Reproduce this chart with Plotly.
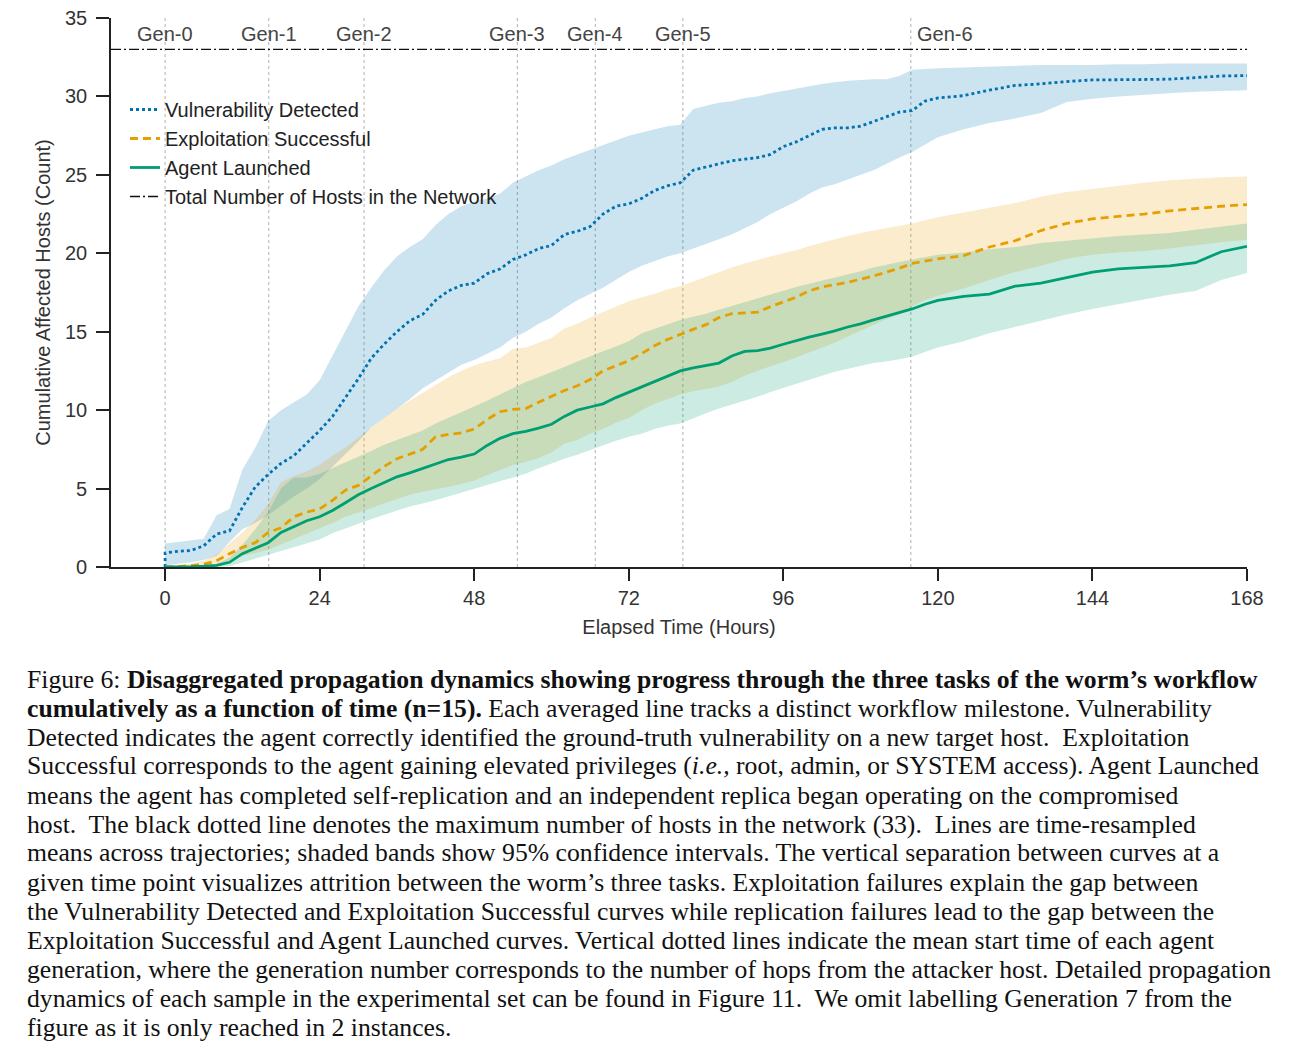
import plotly.graph_objects as go

# elapsed time (hours); 0 appears twice so the curves can jump at the start
hours = [0, 0, 2, 4, 6, 8, 10, 12, 14, 16, 18,
         20, 22, 24, 26, 28, 30, 32, 34, 36, 38,
         40, 42, 44, 46, 48, 50, 52, 54, 56, 58,
         60, 62, 64, 66, 68, 70, 72, 74, 76, 78,
         80, 82, 84, 86, 88, 90, 92, 94, 96, 98,
         100, 102, 104, 106, 108, 110, 112, 114, 116, 118,
         120, 124, 128, 132, 136, 140, 144, 148, 152, 156, 160, 164, 168]

vuln_mean = [0, 0.9, 1.0, 1.05, 1.35, 2.1, 2.3, 3.8, 5.1, 5.9, 6.6,
             7.1, 7.9, 8.7, 9.6, 10.8, 12.0, 13.3, 14.2, 15.0, 15.7,
             16.1, 17.0, 17.6, 17.95, 18.1, 18.7, 19.0, 19.6, 19.9, 20.3,
             20.5, 21.2, 21.4, 21.7, 22.5, 23.0, 23.15, 23.5, 24.0, 24.3,
             24.5, 25.3, 25.5, 25.7, 25.9, 26.0, 26.1, 26.3, 26.8, 27.1,
             27.5, 27.9, 28.0, 28.0, 28.1, 28.4, 28.7, 29.0, 29.1, 29.7,
             29.9, 30.05, 30.4, 30.7, 30.8, 30.95, 31.05, 31.05, 31.08, 31.1, 31.2, 31.3, 31.33]
vuln_lo = [0, 0.1, 0.2, 0.3, 0.45, 0.7, 1.6, 2.4, 2.8, 3.3, 3.9,
           4.5, 5.0, 5.6, 6.4, 7.2, 8.0, 8.9, 9.5, 10.1, 10.7,
           11.4, 11.9, 12.4, 12.9, 13.2, 13.6, 14.0, 14.6, 15.0, 15.5,
           15.9, 16.5, 17.0, 17.4, 17.8, 18.3, 18.8, 19.2, 19.5, 19.8,
           20.0, 20.3, 20.6, 20.9, 21.2, 21.6, 22.0, 22.5, 22.9, 23.3,
           23.8, 24.2, 24.4, 24.7, 25.0, 25.3, 25.7, 26.1, 26.45, 26.9,
           27.4, 27.9, 28.3, 28.6, 28.95, 29.65, 29.85, 30.0, 30.1, 30.2, 30.3, 30.35, 30.4]
vuln_hi = [0, 1.5, 1.6, 1.7, 1.8, 3.3, 3.7, 6.2, 7.6, 9.3, 10.0,
           10.5, 11.0, 11.9, 13.5, 15.0, 16.6, 17.8, 18.9, 19.8, 20.4,
           20.9, 21.8, 22.5, 23.0, 23.3, 23.5, 23.8, 24.5, 24.9, 25.3,
           25.6, 26.0, 26.3, 26.6, 26.9, 27.2, 27.5, 27.7, 27.9, 28.1,
           28.2, 29.2, 29.4, 29.6, 29.7, 29.9, 30.0, 30.2, 30.35, 30.5,
           30.65, 30.8, 30.9, 31.0, 31.05, 31.1, 31.1, 31.3, 31.7, 31.75,
           31.8, 31.85, 31.9, 31.95, 32.0, 32.0, 32.0, 32.05, 32.05, 32.1, 32.1, 32.1, 32.1]

exploit_mean = [0, 0, 0.02, 0.08, 0.18, 0.4, 0.85, 1.25, 1.55, 2.2, 2.5,
                3.2, 3.5, 3.7, 4.25, 4.9, 5.2, 5.8, 6.4, 6.9, 7.2,
                7.5, 8.3, 8.45, 8.55, 8.8, 9.4, 9.9, 10.05, 10.1, 10.5,
                10.9, 11.25, 11.55, 11.95, 12.5, 12.8, 13.15, 13.6, 14.1, 14.5,
                14.85, 15.15, 15.45, 15.9, 16.15, 16.2, 16.25, 16.6, 16.9, 17.2,
                17.6, 17.85, 18.0, 18.15, 18.35, 18.55, 18.8, 19.05, 19.35, 19.5,
                19.65, 19.85, 20.4, 20.8, 21.45, 21.9, 22.2, 22.35, 22.5, 22.7, 22.85, 23.0, 23.1]
exploit_lo = [0, 0, 0, 0, 0.02, 0.1, 0.35, 0.7, 0.9, 1.1, 1.45,
              1.8, 2.1, 2.45, 2.8, 3.2, 3.45, 3.75, 4.05, 4.35, 4.6,
              4.8, 4.95, 5.1, 5.3, 5.5, 5.85, 6.2, 6.5, 6.7, 6.95,
              7.3, 7.85, 8.1, 8.5, 8.8, 9.2, 9.5, 10.0, 10.4, 10.7,
              11.0, 11.2, 11.35, 11.5, 11.8, 12.2, 12.5, 12.8, 13.05, 13.35,
              13.65, 14.0, 14.3, 14.7, 15.1, 15.45, 15.8, 16.1, 16.6, 17.0,
              17.3, 17.75, 18.3, 18.8, 19.2, 19.65, 19.9, 20.05, 20.15, 20.3, 20.5, 20.7, 20.87]
exploit_hi = [0, 0.05, 0.1, 0.2, 0.4, 0.8, 1.5, 2.2, 3.0, 4.0, 5.4,
              5.8, 6.1, 6.5, 7.1, 7.6, 8.25, 8.9, 9.5, 10.1, 10.6,
              11.1, 11.6, 12.1, 12.5, 12.85, 13.1, 13.3, 13.9, 14.0, 14.3,
              14.6, 15.2, 15.5, 15.9, 16.25, 16.6, 16.95, 17.2, 17.4, 17.7,
              17.9, 18.2, 18.5, 18.8, 19.1, 19.35, 19.6, 19.8, 20.0, 20.2,
              20.45, 20.7, 20.9, 21.1, 21.3, 21.45, 21.6, 21.75, 21.9, 22.1,
              22.3, 22.6, 22.9, 23.2, 23.6, 23.9, 24.1, 24.3, 24.5, 24.65, 24.75, 24.85, 24.9]

agent_mean = [0, 0, 0, 0.02, 0.05, 0.1, 0.3, 0.85, 1.2, 1.55, 2.2,
              2.6, 2.95, 3.2, 3.6, 4.1, 4.6, 5.0, 5.35, 5.75, 6.0,
              6.3, 6.6, 6.85, 7.0, 7.2, 7.75, 8.2, 8.5, 8.65, 8.85,
              9.1, 9.6, 10.0, 10.2, 10.4, 10.8, 11.15, 11.5, 11.85, 12.2,
              12.5, 12.7, 12.85, 13.0, 13.45, 13.75, 13.8, 13.95, 14.2, 14.45,
              14.65, 14.85, 15.05, 15.3, 15.5, 15.75, 16.0, 16.2, 16.45, 16.75,
              17.0, 17.25, 17.4, 17.9, 18.1, 18.45, 18.8, 19.0, 19.1, 19.2, 19.4, 20.1, 20.44]
agent_lo = [0, 0, 0, 0, 0, 0, 0.05, 0.3, 0.55, 0.8, 1.05,
            1.3, 1.5, 1.75, 2.15, 2.45, 2.75, 3.05, 3.3, 3.6, 3.85,
            4.05, 4.25, 4.45, 4.7, 4.95, 5.2, 5.45, 5.7, 5.95, 6.3,
            6.6, 6.9, 7.15, 7.45, 7.75, 8.05, 8.3, 8.5, 8.8, 9.0,
            9.15, 9.45, 9.8, 10.1, 10.4, 10.6, 10.85, 11.15, 11.4, 11.7,
            11.95, 12.2, 12.45, 12.65, 12.8, 13.0, 13.1, 13.25, 13.4, 13.7,
            14.0, 14.4, 14.9, 15.3, 15.7, 16.1, 16.45, 16.75, 17.05, 17.35, 17.6, 18.3, 18.74]
agent_hi = [0, 0, 0.02, 0.05, 0.1, 0.2, 0.6, 1.4, 2.4, 3.5, 5.0,
            5.7, 5.7, 5.95, 6.3, 6.7, 7.05, 7.4, 7.8, 8.1, 8.4,
            8.7, 9.15, 9.5, 9.85, 10.2, 10.6, 11.0, 11.4, 11.8, 12.1,
            12.4, 12.75, 13.1, 13.45, 13.75, 14.05, 14.4, 14.9, 15.2, 15.5,
            15.75, 15.95, 16.15, 16.4, 16.65, 16.9, 17.15, 17.4, 17.6, 17.85,
            18.05, 18.25, 18.45, 18.65, 18.85, 19.1, 19.3, 19.45, 19.6, 19.75,
            19.9, 20.05, 20.25, 20.4, 20.65, 20.8, 20.95, 21.1, 21.2, 21.3, 21.5, 21.7, 21.9]

total_hosts = 33

gen_names = ["Gen-0", "Gen-1", "Gen-2", "Gen-3", "Gen-4", "Gen-5", "Gen-6"]
gen_hours = [0, 16.1, 30.9, 54.7, 66.8, 80.4, 115.8]

x_ticks = [0, 24, 48, 72, 96, 120, 144, 168]
y_ticks = [0, 5, 10, 15, 20, 25, 30, 35]

caption_lines = [
    "Figure 6: <b>Disaggregated propagation dynamics showing progress through the three tasks of the worm’s workflow</b>",
    "<b>cumulatively as a function of time (n=15).</b> Each averaged line tracks a distinct workflow milestone. Vulnerability",
    "Detected indicates the agent correctly identified the ground-truth vulnerability on a new target host.  Exploitation",
    "Successful corresponds to the agent gaining elevated privileges (<i>i.e.,</i> root, admin, or SYSTEM access). Agent Launched",
    "means the agent has completed self-replication and an independent replica began operating on the compromised",
    "host.  The black dotted line denotes the maximum number of hosts in the network (33).  Lines are time-resampled",
    "means across trajectories; shaded bands show 95% confidence intervals. The vertical separation between curves at a",
    "given time point visualizes attrition between the worm’s three tasks. Exploitation failures explain the gap between",
    "the Vulnerability Detected and Exploitation Successful curves while replication failures lead to the gap between the",
    "Exploitation Successful and Agent Launched curves. Vertical dotted lines indicate the mean start time of each agent",
    "generation, where the generation number corresponds to the number of hops from the attacker host. Detailed propagation",
    "dynamics of each sample in the experimental set can be found in Figure 11.  We omit labelling Generation 7 from the",
    "figure as it is only reached in 2 instances.",
]

W, H = 1307, 1048
OFF = 8                              # browser page margin around the plot div
PX0, PX1, PY0, PY1 = 111, 1247, 18, 567   # plot box on screen
X_MIN = -8.4

plot_w = PX1 - PX0
plot_h = PY1 - PY0


def sx(px):
    return (px - PX0) / plot_w


def sy(py):
    return (PY1 - py) / plot_h


series = [
    ("Vulnerability Detected", vuln_mean, vuln_lo, vuln_hi, "#0072B2", "rgba(0,114,178,0.2)", "3px,3px"),
    ("Exploitation Successful", exploit_mean, exploit_lo, exploit_hi, "#E69F00", "rgba(230,159,0,0.2)", "8px,5px"),
    ("Agent Launched", agent_mean, agent_lo, agent_hi, "#009E73", "rgba(0,158,115,0.2)", "solid"),
]

fig = go.Figure()

# confidence bands first, so the lines sit on top
for name, mean, lo, hi, col, band, dash in series:
    fig.add_trace(go.Scatter(x=hours + hours[::-1], y=hi + lo[::-1],
                             fill="toself", fillcolor=band, mode="lines",
                             line=dict(width=0), hoverinfo="skip", showlegend=False))

for name, mean, lo, hi, col, band, dash in series:
    fig.add_trace(go.Scatter(x=hours, y=mean, mode="lines", name=name,
                             line=dict(color=col, width=2.8, dash=dash)))

fig.add_trace(go.Scatter(x=[X_MIN, x_ticks[-1]], y=[total_hosts, total_hosts], mode="lines",
                         name="Total Number of Hosts in the Network",
                         line=dict(color="#111111", width=1.4, dash="10px,3px,2px,3px")))

# generation start lines and labels
for name, h in zip(gen_names, gen_hours):
    fig.add_shape(type="line", x0=h, x1=h, y0=0, y1=35, xref="x", yref="y",
                  line=dict(color="#b0b0b0", width=1, dash="dot"), layer="below")
    last = name == gen_names[-1]
    fig.add_annotation(x=h, y=33.95, xref="x", yref="y", text=name, showarrow=False,
                       xanchor="left" if last else "center", xshift=4 if last else 0,
                       font=dict(size=20, color="#444444"))

# caption below the plot
for i, line in enumerate(caption_lines):
    fig.add_annotation(x=sx(25), y=sy(679 + 29 * i), xref="paper", yref="paper",
                       text=line, showarrow=False, xanchor="left", yanchor="middle", align="left",
                       font=dict(family="Liberation Serif, Times New Roman, serif", size=25.7, color="#111111"))

fig.update_xaxes(range=[X_MIN, x_ticks[-1]], tickvals=x_ticks, ticks="outside", ticklen=12,
                 tickwidth=2, tickcolor="#222222", showline=True, linecolor="#222222", linewidth=1.6,
                 showgrid=False, zeroline=False, tickfont=dict(size=20, color="#333333"),
                 ticklabelstandoff=0, ticklabeloverflow="allow", automargin=False,
                 title=dict(text="Elapsed Time (Hours)", font=dict(size=20, color="#333333"), standoff=12))
fig.update_yaxes(range=[0, 35], tickvals=y_ticks, ticks="outside", ticklen=13,
                 tickwidth=2, tickcolor="#222222", showline=True, linecolor="#222222", linewidth=1.6,
                 showgrid=False, zeroline=False, tickfont=dict(size=20, color="#333333"),
                 ticklabelstandoff=5, ticklabeloverflow="allow", automargin=False,
                 title=dict(text="Cumulative Affected Hosts (Count)", font=dict(size=20, color="#333333"), standoff=9))

fig.update_layout(
    width=W, height=H,
    margin=dict(l=PX0 - OFF, r=W - (PX1 - OFF), t=PY0 - OFF, b=H - (PY1 - OFF)),
    plot_bgcolor="white", paper_bgcolor="white",
    font=dict(family="Liberation Sans, Arial, sans-serif", size=20, color="#333333"),
    showlegend=True,
    legend=dict(x=sx(125), y=sy(90), xanchor="left", yanchor="top", bgcolor="rgba(0,0,0,0)",
                font=dict(size=20, color="#222222"), itemwidth=30, tracegroupgap=0),
)

fig.write_html("out.html")
